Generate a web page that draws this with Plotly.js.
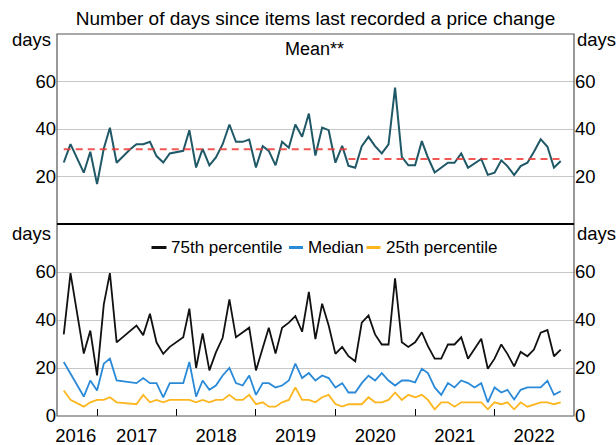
<!DOCTYPE html>
<html>
<head>
<meta charset="utf-8">
<script src="https://cdn.plot.ly/plotly-3.0.1.min.js"></script>
<style>html,body{margin:0;padding:0;background:#fff;}#chart{width:616px;height:445px;}</style>
</head>
<body>
<div id="chart"></div>
<script>
// ---- data (monthly, Aug 2016 - Nov 2022; null = no vertex read) ----
const firstMonth = "2016-08";
const monthCount = 76;
const meanDays = [
  25.9,33.6,null,21.6,30.4,
  16.8,31.8,40.5,25.8,null,31.4,33.6,33.6,34.6,28.6,25.9,29.7,
  null,30.8,39.5,23.8,31.6,24.7,28.0,33.6,41.9,34.6,34.6,35.6,
  23.8,32.8,30.8,24.7,34.6,32.1,41.9,36.7,46.5,28.8,40.6,39.5,
  25.8,32.9,24.5,23.7,32.8,36.7,32.8,29.7,33.5,57.4,28.3,24.7,
  24.7,34.9,28.0,21.7,null,25.8,25.8,29.7,23.7,null,27.4,20.7,
  21.6,26.8,24.4,20.6,24.4,25.8,30.4,35.7,32.5,23.7,26.5
];
const p75Days = [
  34.0,59.5,null,26.0,35.6,
  16.9,46.5,59.5,30.7,null,null,37.7,33.7,42.6,30.7,25.9,28.8,
  null,32.8,44.7,20.0,34.4,19.0,26.5,32.6,48.6,32.8,null,36.8,
  19.0,28.4,36.8,26.0,36.8,38.9,41.6,35.1,51.7,32.0,46.8,37.7,
  25.9,28.8,24.9,22.8,38.9,41.9,34.0,29.8,29.8,57.4,30.7,28.8,
  30.7,34.9,29.1,23.9,23.9,29.8,29.8,32.8,23.9,null,32.2,19.7,
  23.9,29.8,25.9,20.7,26.7,24.9,27.7,34.7,35.8,24.9,27.7
];
const medianDays = [
  22.5,null,null,8.1,14.8,
  10.6,21.8,23.9,14.8,null,null,13.7,15.8,13.7,13.7,7.8,13.7,
  null,13.7,22.5,8.1,14.8,10.9,12.7,16.9,20.0,13.7,12.7,16.9,
  8.8,13.7,13.7,11.9,12.7,14.8,21.8,15.8,17.9,14.8,16.9,15.8,
  11.9,13.7,9.8,9.8,13.7,16.8,14.8,17.9,14.8,12.7,14.8,14.8,
  14.0,19.7,17.9,11.9,8.8,13.7,11.9,14.8,13.7,11.9,13.7,5.7,
  11.9,9.8,10.9,6.9,10.9,11.9,null,11.9,14.7,8.8,10.3
];
const p25Days = [
  10.6,6.7,null,3.9,5.7,
  6.7,6.7,7.8,5.7,null,null,4.9,8.8,5.7,6.7,5.7,6.7,
  null,6.7,6.7,5.7,6.7,5.7,6.7,6.7,8.8,6.7,6.7,8.8,
  4.9,5.7,3.9,3.9,5.7,6.7,11.9,6.7,6.7,5.7,7.8,8.8,
  5.0,3.9,4.9,4.9,4.9,7.8,5.7,5.7,6.7,9.8,6.7,8.8,
  7.8,8.8,6.7,2.8,5.7,5.7,3.9,5.7,5.7,5.7,5.7,2.8,
  5.7,4.9,5.7,2.8,5.7,3.9,4.9,5.7,5.7,4.9,5.7
];
// period averages of the mean (red dashed)
const avgPeriodBounds = ["2016-08-01","2020-03-01","2022-11-01"];
const avgPeriodValues = [31.5, 27.4];
// axis labels
const yearLabels = ["2016","2017","2018","2019","2020","2021","2022"];
const yearLabelPos = ["2016-09-25","2017-07-02","2018-07-02","2019-07-02","2020-07-02","2021-07-02","2022-07-02"];
const yearBoundaries = ["2017-01-01","2018-01-01","2019-01-01","2020-01-01","2021-01-01","2022-01-01"];
const topTicks = [20,40,60];
const bottomTicks = [0,20,40,60];
const seriesNames = ["75th percentile","Median","25th percentile"];

// ---- build month dates ----
const months = [];
{
  let y = +firstMonth.slice(0,4), m = +firstMonth.slice(5,7);
  for (let i=0;i<monthCount;i++){
    months.push(y + "-" + String(m).padStart(2,"0") + "-01");
    m++; if (m>12){m=1;y++;}
  }
}

const cTeal = "#1f5866", cRed = "#ee3b36", cBlue = "#2a8ad8", cOrange = "#fdb61f", cBlack = "#111111";
const traces = [];
traces.push({x:months, y:meanDays, xaxis:"x", yaxis:"y", mode:"lines", connectgaps:true,
  line:{color:cTeal,width:2}, name:"Mean", showlegend:false});
for (let i=0;i<avgPeriodValues.length;i++){
  traces.push({x:[avgPeriodBounds[i],avgPeriodBounds[i+1]], y:[avgPeriodValues[i],avgPeriodValues[i]],
    xaxis:"x", yaxis:"y3", mode:"lines", line:{color:cRed,width:2,dash:"7px,5px"}, opacity:0.85,
    hoverinfo:"skip", showlegend:false});
}
traces.push({x:months, y:p75Days, xaxis:"x", yaxis:"y2", mode:"lines", connectgaps:true,
  line:{color:cBlack,width:1.8}, name:seriesNames[0], showlegend:false});
traces.push({x:months, y:medianDays, xaxis:"x", yaxis:"y2", mode:"lines", connectgaps:true,
  line:{color:cBlue,width:1.8}, name:seriesNames[1], showlegend:false});
traces.push({x:months, y:p25Days, xaxis:"x", yaxis:"y4", mode:"lines", connectgaps:true,
  line:{color:cOrange,width:1.8}, name:seriesNames[2], showlegend:false});

const L = 57, R = 574, T = 34, B = 416, MID = 224;
const pw = R-L, ph = B-T;
const px = v => (v-L)/pw;
const py = v => (B-v)/ph;
const split = py(MID);

const fam = '"Liberation Sans", Arial, sans-serif';
const font = {family:fam, size:18.5, color:"#000"};
const legFont = {family:fam, size:17, color:"#000"};
const yCommon = {range:[0,80], showgrid:true, gridcolor:"#c8c8c8", gridwidth:1, zeroline:false,
  showline:false, ticks:"", tickmode:"array", tickfont:font, fixedrange:true};

const legendY = py(247.5);
const legendItems = [
  {x0:151.5,x1:166.5,tx:169,color:cBlack,text:seriesNames[0]},
  {x0:289,x1:303,tx:306,color:cBlue,text:seriesNames[1]},
  {x0:366.5,x1:380.5,tx:384,color:cOrange,text:seriesNames[2]}
];

const shapes = [
  {type:"rect", xref:"paper", yref:"paper", x0:0, x1:1, y0:0, y1:1, line:{color:"#555",width:1.2}},
  {type:"line", xref:"paper", yref:"paper", x0:0, x1:1, y0:split, y1:split, line:{color:"#000",width:2}}
];
const annotations = [
  {text:"days", xref:"paper", yref:"paper", x:px(53), y:py(40), xanchor:"right", yanchor:"middle", showarrow:false, font:font},
  {text:"days", xref:"paper", yref:"paper", x:px(575), y:py(40), xanchor:"left", yanchor:"middle", showarrow:false, font:font},
  {text:"days", xref:"paper", yref:"paper", x:px(53), y:py(233), xanchor:"right", yanchor:"middle", showarrow:false, font:font},
  {text:"days", xref:"paper", yref:"paper", x:px(575), y:py(233), xanchor:"left", yanchor:"middle", showarrow:false, font:font},
  {text:"Mean**", xref:"paper", yref:"paper", x:px(314), y:py(49), xanchor:"center", yanchor:"middle", showarrow:false, font:{family:fam,size:18,color:"#000"}}
];
legendItems.forEach(it=>{
  shapes.push({type:"line", xref:"paper", yref:"paper", x0:px(it.x0), x1:px(it.x1), y0:legendY, y1:legendY, line:{color:it.color,width:3}});
  annotations.push({text:it.text, xref:"paper", yref:"paper", x:px(it.tx), y:legendY, xanchor:"left", yanchor:"middle", showarrow:false, font:legFont});
});

const layout = {
  width:616, height:445,
  margin:{l:L, r:616-R, t:T, b:445-B, pad:0},
  paper_bgcolor:"#fff", plot_bgcolor:"#fff",
  font:font, showlegend:false,
  title:{text:"Number of days since items last recorded a price change", font:{family:fam,size:19,color:"#000"},
    x:0.5, xref:"paper", xanchor:"center", y:1-18/445, yref:"container", yanchor:"middle"},
  xaxis:{type:"date", range:["2016-07-01","2023-01-01"], anchor:"y2",
    tickmode:"array", tickvals:yearLabelPos, ticktext:yearLabels, ticks:"", tickfont:font,
    ticklabelstandoff:6,
    showgrid:false, zeroline:false, showline:false, fixedrange:true,
    minor:{tickmode:"array", tickvals:yearBoundaries, ticks:"inside", ticklen:7, tickcolor:"#000", tickwidth:1, showgrid:false}},
  yaxis:Object.assign({}, yCommon, {domain:[split,1], anchor:"x", tickvals:topTicks}),
  yaxis2:Object.assign({}, yCommon, {domain:[0,split], anchor:"x", tickvals:bottomTicks}),
  yaxis3:Object.assign({}, yCommon, {overlaying:"y", side:"right", anchor:"x", showgrid:false, tickvals:topTicks}),
  yaxis4:Object.assign({}, yCommon, {overlaying:"y2", side:"right", anchor:"x", showgrid:false, tickvals:bottomTicks}),
  shapes:shapes, annotations:annotations
};

Plotly.newPlot("chart", traces, layout, {staticPlot:true, displayModeBar:false});
</script>
</body>
</html>
